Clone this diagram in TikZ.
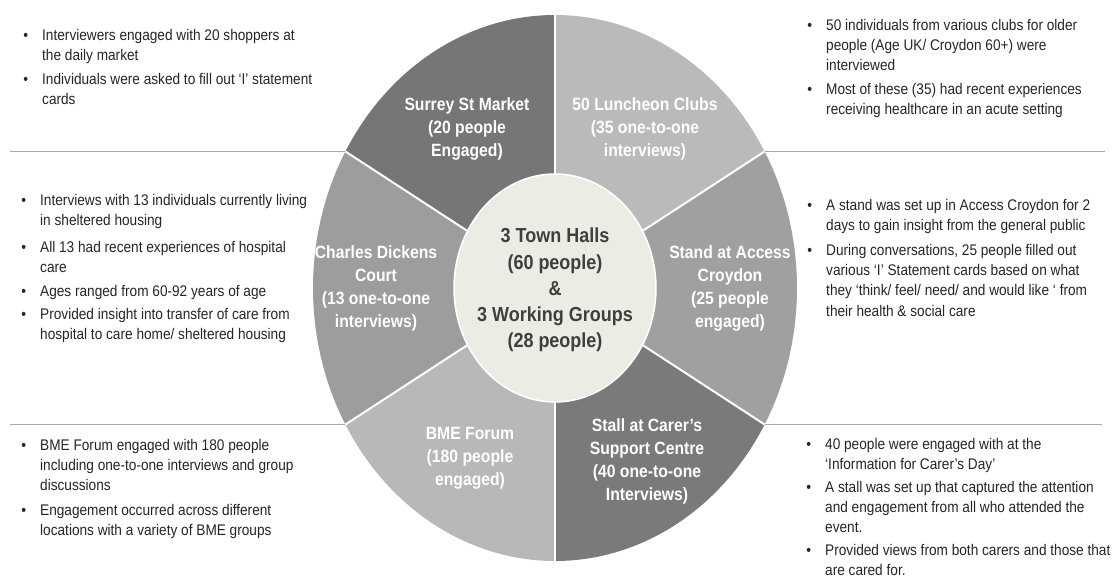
\documentclass[tikz,border=0pt]{standalone}
\usepackage{fontspec}
\setmainfont{Liberation Sans}[FakeStretch=0.886]
\newfontfamily\nf{Liberation Sans}[FakeStretch=0.886]
\definecolor{secA}{HTML}{767676}
\definecolor{secB}{HTML}{BABABA}
\definecolor{secC}{HTML}{A0A0A0}
\definecolor{secD}{HTML}{7A7A7A}
\definecolor{secE}{HTML}{B8B8B8}
\definecolor{secF}{HTML}{9D9D9D}
\definecolor{hub}{HTML}{EDECE4}
\definecolor{hubtext}{HTML}{3F3F3F}
\definecolor{bodytext}{HTML}{262626}
\definecolor{rule}{HTML}{A6A6A6}
\tikzset{
  itm/.style={anchor=north west, align=left, inner sep=0pt, text=bodytext,
    font=\nf\fontsize{15.4}{20.3}\selectfont},
  seclabel/.style={align=center, inner sep=0pt, text=white,
    font=\nf\bfseries\fontsize{17.75}{23}\selectfont},
  hublabel/.style={align=center, inner sep=0pt, text=hubtext,
    font=\nf\bfseries\fontsize{20.3}{26.2}\selectfont},
  divider/.style={draw=white, line width=2pt},
  sep/.style={draw=rule, line width=1.5pt}
}
\newcommand{\bul}{\llap{\textbullet\hspace{14pt}}}
\begin{document}
\begin{tikzpicture}[x=1pt,y=1pt]
\useasboundingbox (0,0) rectangle (1117,-577);
\fill[white] (0,0) rectangle (1117,-577);
\coordinate (C) at (555,-288);
% sectors
\fill[secA] (C) -- ++(90:242 and 273) arc[start angle=90, end angle=150, x radius=242, y radius=273] -- cycle;
\fill[secF] (C) -- ++(150:242 and 273) arc[start angle=150, end angle=210, x radius=242, y radius=273] -- cycle;
\fill[secE] (C) -- ++(210:242 and 273) arc[start angle=210, end angle=270, x radius=242, y radius=273] -- cycle;
\fill[secD] (C) -- ++(270:242 and 273) arc[start angle=270, end angle=330, x radius=242, y radius=273] -- cycle;
\fill[secC] (C) -- ++(330:242 and 273) arc[start angle=330, end angle=390, x radius=242, y radius=273] -- cycle;
\fill[secB] (C) -- ++(30:242 and 273) arc[start angle=30, end angle=90, x radius=242, y radius=273] -- cycle;
% boundary points
\path (C) ++(90:242 and 273) coordinate (p90);
\path (C) ++(150:242 and 273) coordinate (p150);
\path (C) ++(210:242 and 273) coordinate (p210);
\path (C) ++(270:242 and 273) coordinate (p270);
\path (C) ++(330:242 and 273) coordinate (p330);
\path (C) ++(30:242 and 273) coordinate (p30);
\foreach \p in {p90,p150,p210,p270,p330,p30} \draw[divider] (C) -- (\p);
% hub
\draw[fill=hub, draw=white, line width=1.5pt] (C) ellipse[x radius=101, y radius=114];
\node[hublabel] (hubtext) at (555,-290) {3 Town Halls\\(60 people)\\\&\\3 Working Groups\\(28 people)};
% sector labels
\node[seclabel] (surrey) at (467,-129) {Surrey St Market\\(20 people\\Engaged)};
\node[seclabel] (lunch) at (645,-129) {50 Luncheon Clubs\\(35 one-to-one\\interviews)};
\node[seclabel] (dickens) at (376,-288) {Charles Dickens\\Court\\(13 one-to-one\\interviews)};
\node[seclabel] (access) at (730,-288) {Stand at Access\\Croydon\\(25 people\\engaged)};
\node[seclabel] (bme) at (470,-458) {BME Forum\\(180 people\\engaged)};
\node[seclabel] (stall) at (647,-461) {Stall at Carer’s\\Support Centre\\(40 one-to-one\\Interviews)};
% separator rules
\draw[sep] (p150) -- ++(-335,0);
\draw[sep] (p210) -- ++(-335,0);
\draw[sep] (p30) -- ++(340,0);
\draw[sep] (p330) -- ++(337,0);
% top-left
\node[itm] (tl1) at (42,-29) {\bul Interviewers engaged with  20 shoppers at\\the daily market};
\node[itm] (tl2) at (42,-73) {\bul Individuals were asked to fill out ‘I’ statement\\cards};
% top-right
\node[itm] (tr1) at (826,-19) {\bul 50 individuals  from various clubs for older\\people (Age UK/ Croydon 60+) were\\interviewed};
\node[itm] (tr2) at (826,-83) {\bul Most of these (35) had recent experiences\\receiving healthcare in an acute setting};
% middle-left
\node[itm] (ml1) at (40,-194) {\bul Interviews with 13 individuals currently living\\in sheltered housing};
\node[itm] (ml2) at (40,-241) {\bul All 13 had recent experiences of hospital\\care};
\node[itm] (ml3) at (40,-285) {\bul Ages ranged from 60-92 years of age};
\node[itm] (ml4) at (40,-308) {\bul Provided insight into transfer of care from\\hospital to care home/ sheltered housing};
% middle-right
\node[itm] (mr1) at (826,-199) {\bul A stand was set up in Access Croydon for 2\\days to gain insight from the general public};
\node[itm] (mr2) at (826,-244) {\bul During conversations, 25 people filled out\\various ‘I’ Statement cards based on what\\they ‘think/  feel/ need/ and would like ‘ from\\their health \& social care};
% bottom-left
\node[itm] (bl1) at (40,-439) {\bul BME Forum engaged with  180 people\\including one-to-one interviews and group\\discussions};
\node[itm] (bl2) at (40,-504) {\bul Engagement occurred across different\\locations with  a variety  of BME groups};
% bottom-right
\node[itm] (br1) at (825,-438) {\bul 40 people were engaged with  at the\\‘Information for Carer’s Day’};
\node[itm] (br2) at (825,-481) {\bul A stall was set up that captured the attention\\and engagement from all who attended the\\event.};
\node[itm] (br3) at (825,-544) {\bul Provided views from both carers and those that\\are cared for.};
\end{tikzpicture}
\end{document}
